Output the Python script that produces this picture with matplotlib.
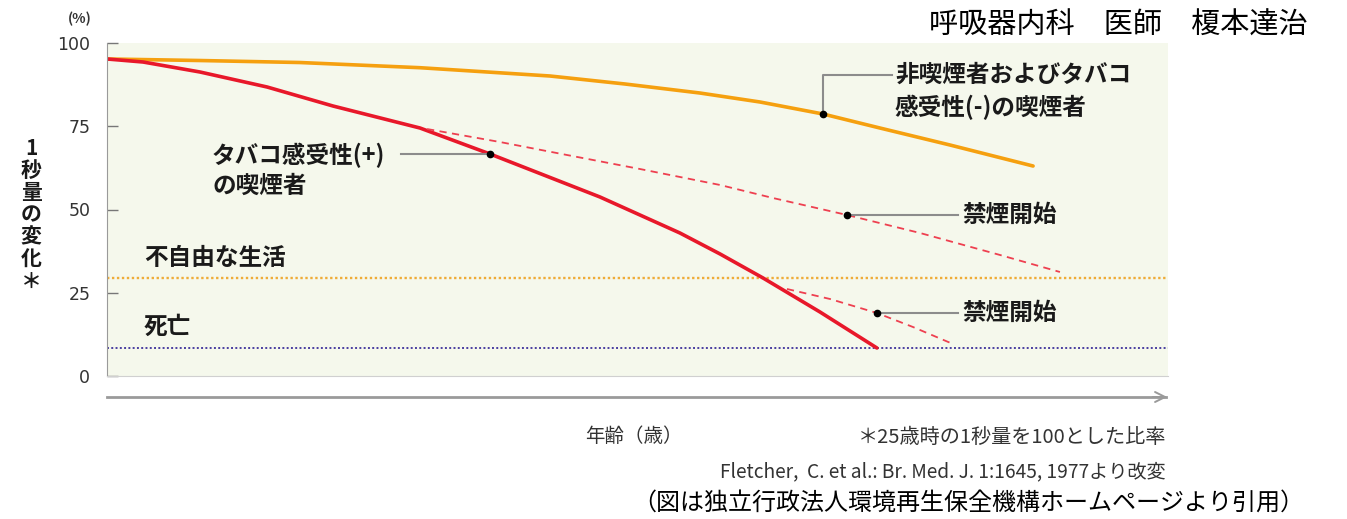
import numpy as np
import matplotlib.pyplot as plt

plt.rcParams['font.family'] = ['Noto Sans CJK JP', 'DejaVu Sans']

# 年齢(歳) と 1秒量(25歳時を100とした比率, %) — 図から読み取り
age_nonsmoker = [25, 30.26, 35.91, 42.70, 50.05, 54.29, 58.53, 61.93, 65.49, 68.71, 72.67, 77.37]
fev_nonsmoker = [95.2, 94.74, 94.14, 92.58, 90.09, 87.69, 84.98, 82.28, 78.68, 74.47, 69.37, 63.06]

age_smoker = [25, 27.04, 30.26, 34.05, 37.78, 42.70, 46.66, 52.88, 57.40, 59.67, 62.10, 65.32, 68.54]
fev_smoker = [95.2, 94.29, 91.29, 86.79, 81.08, 74.47, 66.67, 53.75, 42.94, 36.64, 29.43, 19.22, 8.41]

age_quit1 = [43.10, 47.22, 51.01, 55.14, 59.67, 62.66, 66.85, 70.98, 75.50, 78.89]
fev_quit1 = [74.17, 70.27, 66.37, 62.16, 57.36, 53.45, 48.35, 42.94, 36.34, 31.23]

age_quit2 = [63.45, 65.89, 68.54, 70.58, 72.84]
fev_quit2 = [26.13, 23.12, 18.92, 14.71, 9.61]

level_disabled = 29.4
level_death = 8.4
yticks = [0, 25, 50, 75, 100]

# ラベル用の点 (曲線上)
pt_nonsmoker = (65.49, 78.68)
pt_smoker = (46.66, 66.67)
pt_quit1 = (66.85, 48.35)
pt_quit2 = (68.54, 18.92)

W, H = 1347, 519
fig = plt.figure(figsize=(W / 100, H / 100), dpi=100)
ax = fig.add_axes([107 / W, (H - 376) / H, (1168 - 107) / W, (376 - 43) / H])
ax.set_facecolor('#f5f8ec')

def P(x, y):
    return x / W, 1 - y / H

orange = '#f5a00f'
red = '#e8182a'
gray = '#8c8c8c'
txt = '#1a1a1a'

ax.axhline(level_disabled, color='#efac38', lw=1.7, ls=(0, (1, 1.1)))
ax.axhline(level_death, color='#4a3ea0', lw=1.4, ls=(0, (1, 1.2)))

ax.plot(age_nonsmoker, fev_nonsmoker, color=orange, lw=2.6, solid_capstyle='round', solid_joinstyle='round')
ax.plot(age_smoker, fev_smoker, color=red, lw=2.6, solid_capstyle='round', solid_joinstyle='round')
ax.plot(age_quit1, fev_quit1, color='#ee4050', lw=1.3, ls=(0, (4, 3)))
ax.plot(age_quit2, fev_quit2, color='#ee4050', lw=1.3, ls=(0, (4, 3)))

# 引き出し線
ax.plot([pt_nonsmoker[0], pt_nonsmoker[0], 69.4], [pt_nonsmoker[1], 90.4, 90.4], color=gray, lw=1.5)
ax.plot([41.6, pt_smoker[0]], [pt_smoker[1], pt_smoker[1]], color=gray, lw=1.5)
ax.plot([pt_quit1[0], 73.1], [pt_quit1[1], pt_quit1[1]], color=gray, lw=1.5)
ax.plot([pt_quit2[0], 73.1], [pt_quit2[1], pt_quit2[1]], color=gray, lw=1.5)
for p in [pt_nonsmoker, pt_smoker, pt_quit1, pt_quit2]:
    ax.plot(*p, 'o', color='black', ms=4.5, zorder=5)

ax.set_xlim(25, 85)
ax.set_ylim(0, 100)
ax.set_yticks(yticks)
ax.set_xticks([])
ax.tick_params(axis='y', direction='in', length=8, width=1, color='#777777',
               labelsize=12.5, labelcolor='#333333', pad=12)
for lab in ax.get_yticklabels():
    lab.set_family('DejaVu Sans')
for s in ['top', 'right']:
    ax.spines[s].set_visible(False)
ax.spines['left'].set_color('#9a9a9a')
ax.spines['bottom'].set_color('#d0d0d0')

# 横軸の矢印
fig.add_artist(plt.Line2D([107 / W, 1166 / W], [1 - 397 / H] * 2, color='#9a9a9a', lw=2))
ax.annotate('', xy=P(1170, 397), xytext=P(1150, 397), xycoords='figure fraction',
            arrowprops=dict(arrowstyle='->', color='#9a9a9a', lw=1.4, mutation_scale=18))

fs = 17
fig.text(*P(895, 75), '非喫煙者およびタバコ', fontsize=fs, weight='bold', color=txt, va='center')
fig.text(*P(895, 107), '感受性(-)の喫煙者', fontsize=fs, weight='bold', color=txt, va='center')
fig.text(*P(212, 155), 'タバコ感受性(+)', fontsize=fs, weight='bold', color=txt, va='center')
fig.text(*P(212, 186), 'の喫煙者', fontsize=fs, weight='bold', color=txt, va='center')
fig.text(*P(962, 215), '禁煙開始', fontsize=fs, weight='bold', color=txt, va='center')
fig.text(*P(962, 313), '禁煙開始', fontsize=fs, weight='bold', color=txt, va='center')
fig.text(*P(144, 258), '不自由な生活', fontsize=fs, weight='bold', color=txt, va='center')
fig.text(*P(144, 327), '死亡', fontsize=fs, weight='bold', color=txt, va='center')

fig.text(*P(31, 215), '\n'.join('1秒量の変化＊'), fontsize=15, weight='bold', color=txt,
         ha='center', va='center', linespacing=1.06)
fig.text(*P(80, 19), '(%)', fontsize=10, weight='bold', color='#333333', ha='center', va='center')

fig.text(*P(1308, 26), '呼吸器内科　医師　榎本達治', fontsize=21, color='black', ha='right', va='center')
fig.text(*P(585, 437), '年齢（歳）', fontsize=14, color='#333333', va='center')
fig.text(*P(1166, 437), '＊25歳時の1秒量を100とした比率', fontsize=14.5, color='#333333', ha='right', va='center')
fig.text(*P(1166, 472), 'Fletcher,  C. et al.: Br. Med. J. 1:1645, 1977より改変', fontsize=13.8,
         color='#333333', ha='right', va='center')
fig.text(*P(968, 503), '（図は独立行政法人環境再生保全機構ホームページより引用）', fontsize=17.3,
         color='black', ha='center', va='center')

fig.savefig('out.png', dpi=100)
